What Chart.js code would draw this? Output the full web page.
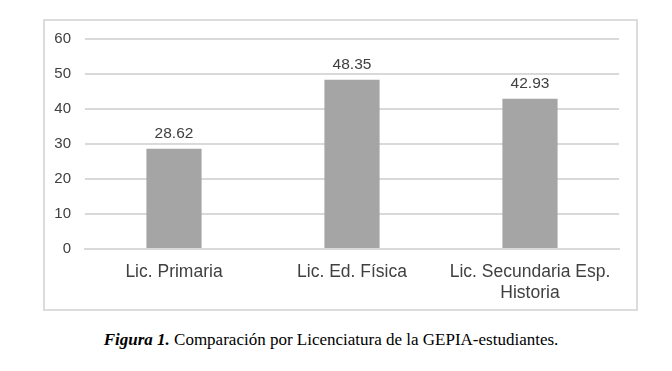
<!DOCTYPE html>
<html>
<head>
<meta charset="utf-8">
<script src="https://cdn.jsdelivr.net/npm/chart.js@4.4.0/dist/chart.umd.min.js"></script>
<style>
  body { margin: 0; background: #fff; width: 672px; height: 371px; position: relative; }
  #box { position: absolute; left: 43px; top: 19px; width: 591px; height: 288px; border: 2px solid #dcdcdc; }
  #box canvas { display: block; }
  #caption { position: absolute; left: 0; width: 662px; top: 330px; text-align: center;
             font-family: "Liberation Serif", serif; font-size: 17px; color: #000; }
</style>
</head>
<body>
<div id="box"><canvas id="barChart" width="591" height="288"></canvas></div>
<div id="caption"><b><i>Figura 1.</i></b> Comparación por Licenciatura de la GEPIA-estudiantes.</div>
<script>
// categories and values
var categories = ["Lic. Primaria", "Lic. Ed. Física", ["Lic. Secundaria Esp.", "Historia"]];
var values = [28.62, 48.35, 42.93];
var yTicks = [0, 10, 20, 30, 40, 50, 60];

// draws the number above each bar
var valueLabels = {
  id: "valueLabels",
  afterDatasetsDraw: function(chart) {
    var ctx = chart.ctx;
    var meta = chart.getDatasetMeta(0);
    ctx.save();
    ctx.font = "15.5px 'Liberation Sans', Arial, sans-serif";
    ctx.fillStyle = "#404040";
    ctx.textAlign = "center";
    ctx.textBaseline = "alphabetic";
    meta.data.forEach(function(bar, i) {
      ctx.fillText(values[i].toFixed(2), bar.x, bar.y - 11);
    });
    ctx.restore();
  }
};

new Chart("barChart", {
  type: "bar",
  data: {
    labels: categories,
    datasets: [{
      data: values,
      backgroundColor: "#a5a5a5",
      categoryPercentage: 1,
      barPercentage: 0.31
    }]
  },
  options: {
    responsive: false,
    animation: false,
    layout: { autoPadding: false, padding: { top: 18, right: 17, left: 0, bottom: 0 } },
    plugins: { legend: { display: false }, tooltip: { enabled: false } },
    scales: {
      x: {
        grid: { display: false },
        border: { display: true, color: "#d9d9d9", width: 2 },
        ticks: { color: "#404040", font: { family: "'Liberation Sans', Arial, sans-serif", size: 17.5 }, padding: 5 },
        afterFit: function(scale) { scale.height = 60; }
      },
      y: {
        min: 0, max: 60,
        afterBuildTicks: function(scale) { scale.ticks = yTicks.map(function(v) { return { value: v }; }); },
        grid: { color: "#d9d9d9", lineWidth: 2, drawTicks: false },
        border: { display: false },
        ticks: { color: "#404040", font: { family: "'Liberation Sans', Arial, sans-serif", size: 15 }, padding: 14 },
        // fixed axis width, no extra top padding so the 60 line sits near the frame
        afterFit: function(scale) { scale.width = 40; scale.paddingTop = 0; scale.paddingBottom = 0; }
      }
    }
  },
  plugins: [valueLabels]
});
</script>
</body>
</html>
